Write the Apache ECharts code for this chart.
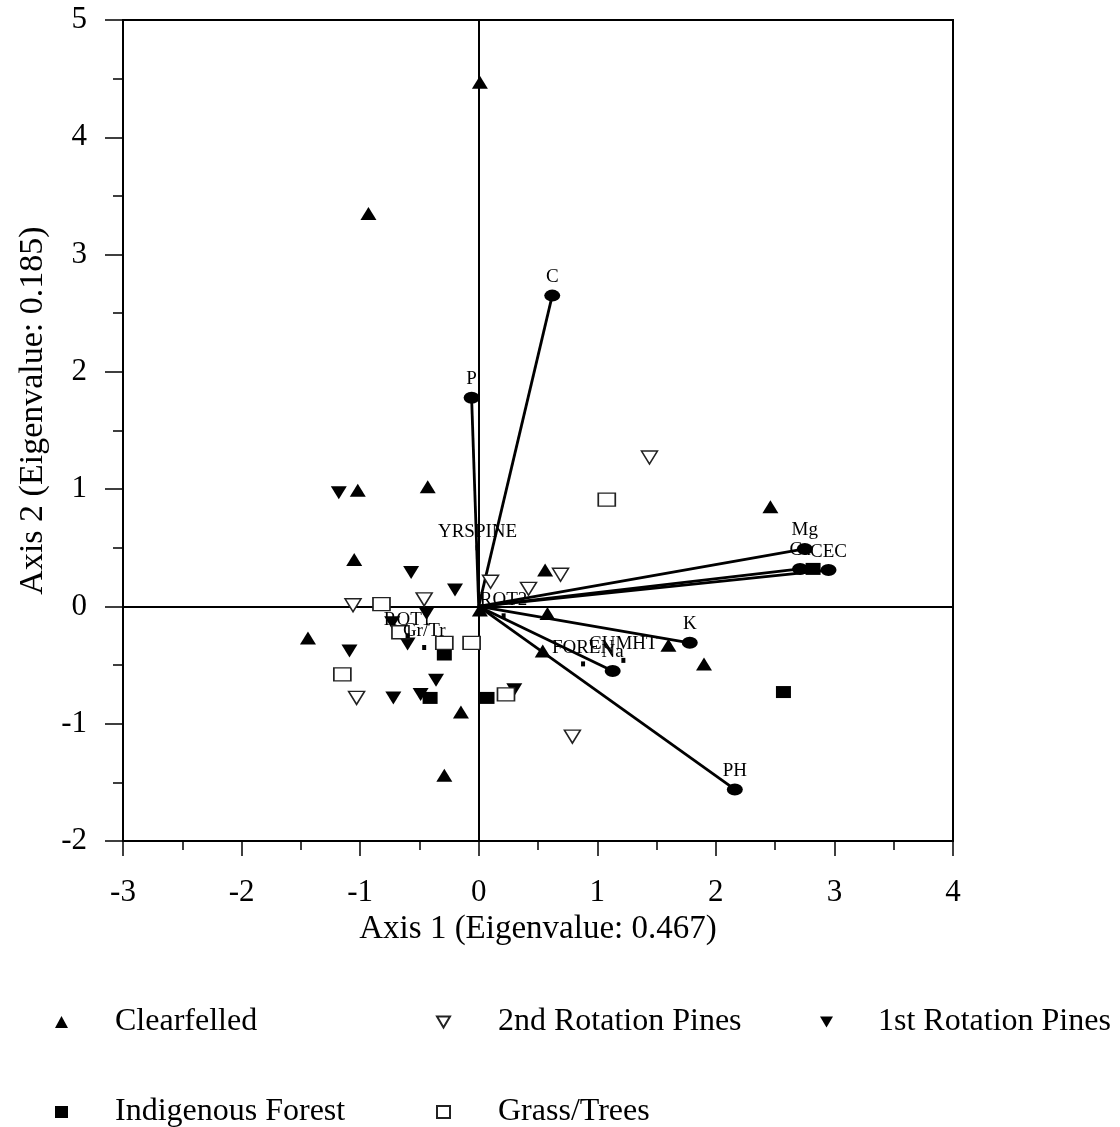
<!DOCTYPE html>
<html><head><meta charset="utf-8">
<script src="https://cdn.jsdelivr.net/npm/echarts/dist/echarts.min.js"></script>
<style>html,body{margin:0;padding:0;background:#fff}#c{width:1120px;height:1127px}</style>
</head><body><div id="c"></div>
<script>
// ---- data ----
const clearfelled = [[0.01,4.47],[-0.93,3.35],[-1.02,0.99],[-0.43,1.02],[-1.05,0.40],[-1.44,-0.27],[-0.15,-0.90],[-0.29,-1.44],[0.56,0.31],[0.58,-0.06],[0.54,-0.38],[1.60,-0.33],[1.90,-0.49],[2.46,0.85],[0.01,-0.03]];
const rot2Pines = [[1.44,1.27],[0.69,0.27],[0.42,0.15],[0.10,0.21],[-1.06,0.01],[-0.46,0.06],[-1.03,-0.78],[0.79,-1.11]];
const rot1Pines = [[-1.18,0.97],[-0.57,0.29],[-0.20,0.14],[-0.73,-0.14],[-0.60,-0.32],[-1.09,-0.38],[-0.36,-0.63],[-0.72,-0.78],[-0.49,-0.75],[0.30,-0.71],[-0.44,-0.06]];
const indigenousForest = [[-0.29,-0.41],[-0.41,-0.78],[0.07,-0.78],[2.82,0.32],[2.57,-0.73]];
const grassTrees = [[1.08,0.91],[-0.82,0.02],[-0.66,-0.22],[-0.29,-0.31],[-0.06,-0.31],[-1.15,-0.58],[0.23,-0.75]];
const vectorNames = ['C','P','Mg','Ca','CEC','K','Na','PH'];
const vectorEnds = [[0.62,2.65],[-0.06,1.78],[2.75,0.49],[2.71,0.32],[2.95,0.31],[1.78,-0.31],[1.13,-0.55],[2.16,-1.56]];
const centroidNames = ['YRSPINE','ROT2','ROT1','Gr/Tr','FOREN','CUMHT'];
const centroidPos = [[-0.01,0.50],[0.21,-0.08],[-0.60,-0.25],[-0.46,-0.35],[0.88,-0.49],[1.22,-0.46]];
const xRange = [-3, 4];
const yRange = [-2, 5];
const groupNames = ['Clearfelled','2nd Rotation Pines','1st Rotation Pines','Indigenous Forest','Grass/Trees'];
const xTitle = 'Axis 1 (Eigenvalue: 0.467)';
const yTitle = 'Axis 2 (Eigenvalue: 0.185)';

// ---- chart ----
const FONT = '"Liberation Serif", "Times New Roman", serif';
const downTri = 'path://M0,0L10,0L5,8.6Z';
const chart = echarts.init(document.getElementById('c'), null, {renderer:'canvas'});
const filled = {color:'#000', opacity:1};
const open = {color:'#fff', borderColor:'#222', borderWidth:1.5, opacity:1};

function legendAt(name, left, top, pad){
  return {data:[name], left:left, top:top, itemWidth:13, itemHeight:12, selectedMode:false,
    textStyle:{fontSize:32, fontFamily:FONT, color:'#000', padding:[0,0,0,pad]}};
}

chart.setOption({
  animation:false,
  backgroundColor:'#fff',
  grid:{left:123, right:167, top:20, bottom:286, show:true, borderColor:'#000', borderWidth:2, backgroundColor:'transparent'},
  legend:[
    legendAt(groupNames[0], 50, 1001, 42),
    legendAt(groupNames[1], 431, 1001, 43),
    legendAt(groupNames[2], 815, 1001, 40),
    legendAt(groupNames[3], 50, 1091, 42),
    legendAt(groupNames[4], 431, 1091, 43)
  ],
  xAxis:{type:'value', min:xRange[0], max:xRange[1], interval:1,
    axisLine:{show:true, onZero:false, lineStyle:{color:'#000', width:2}},
    axisTick:{show:true, length:15, lineStyle:{color:'#000', width:1.5}},
    minorTick:{show:true, splitNumber:2, length:9, lineStyle:{color:'#000', width:1.5}},
    splitLine:{show:false},
    axisLabel:{fontSize:31, fontFamily:FONT, color:'#000', margin:36},
    name:xTitle, nameLocation:'middle', nameGap:62,
    nameTextStyle:{fontSize:33, fontFamily:FONT, color:'#000'}},
  yAxis:{type:'value', min:yRange[0], max:yRange[1], interval:1,
    axisLine:{show:true, onZero:false, lineStyle:{color:'#000', width:2}},
    axisTick:{show:true, length:18, lineStyle:{color:'#000', width:1.5}},
    minorTick:{show:true, splitNumber:2, length:10, lineStyle:{color:'#000', width:1.5}},
    splitLine:{show:false},
    axisLabel:{fontSize:31, fontFamily:FONT, color:'#000', margin:36},
    name:yTitle, nameLocation:'middle', nameGap:70, nameRotate:90,
    nameTextStyle:{fontSize:34, fontFamily:FONT, color:'#000', padding:[0,0,0,40]}},
  series:[
    {type:'lines', coordinateSystem:'cartesian2d', silent:true, z:2,
      data:vectorEnds.map(e => ({coords:[[0,0], e]})),
      lineStyle:{color:'#000', width:2.8, opacity:1}},
    {type:'scatter', name:'vectors', silent:true, z:4,
      data:vectorNames.map((n,i) => ({name:n, value:vectorEnds[i]})),
      symbol:'circle', symbolSize:[16,12], itemStyle:filled,
      label:{show:true, position:'top', distance:3, formatter:'{b}', fontSize:19, fontFamily:FONT, color:'#000'},
      markLine:{silent:true, symbol:['none','none'], label:{show:false}, animation:false,
        lineStyle:{color:'#000', width:2, type:'solid', opacity:1}, emphasis:{disabled:true},
        data:[{xAxis:0},{yAxis:0}]}},
    {type:'scatter', name:'centroids', silent:true, z:6,
      data:centroidNames.map((n,i) => ({name:n, value:centroidPos[i]})),
      symbol:'rect', symbolSize:[4,5], itemStyle:filled,
      label:{show:true, position:'top', distance:4, formatter:'{b}', fontSize:19, fontFamily:FONT, color:'#000'}},
    {type:'scatter', name:groupNames[0], data:clearfelled, symbol:'triangle', symbolSize:[16,13], itemStyle:filled, z:5},
    {type:'scatter', name:groupNames[1], data:rot2Pines, symbol:downTri, symbolSize:[16,13], itemStyle:open, z:5},
    {type:'scatter', name:groupNames[2], data:rot1Pines, symbol:downTri, symbolSize:[16,13], itemStyle:filled, z:5},
    {type:'scatter', name:groupNames[3], data:indigenousForest, symbol:'rect', symbolSize:[15,12], itemStyle:filled, z:5},
    {type:'scatter', name:groupNames[4], data:grassTrees, symbol:'rect', symbolSize:[17,13], itemStyle:open, z:5}
  ]
});
</script>
</body></html>
